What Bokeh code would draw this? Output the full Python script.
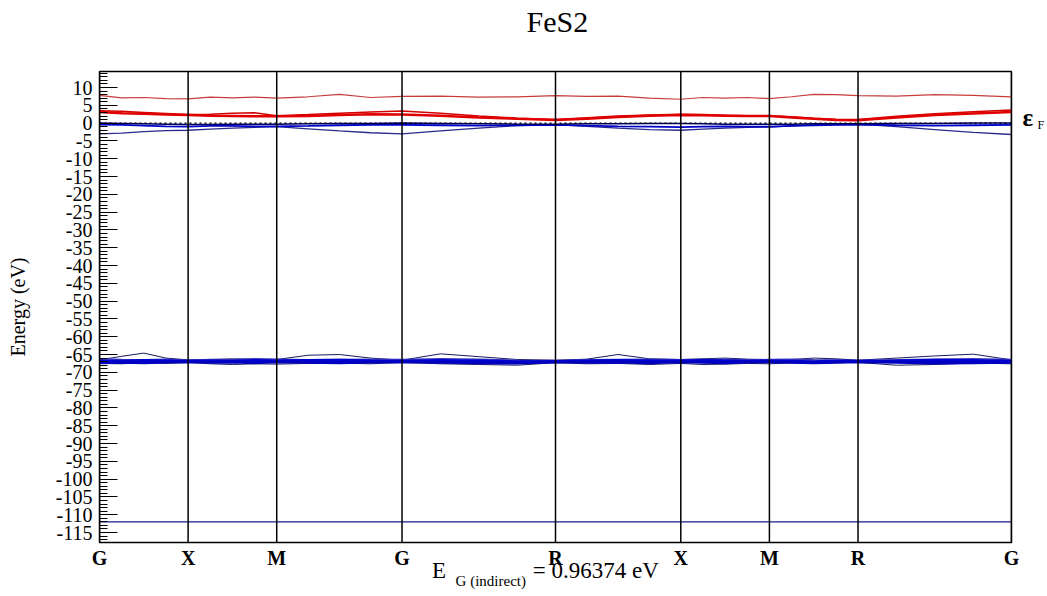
from bokeh.plotting import figure
from bokeh.models import FixedTicker, Span, Range1d, LinearAxis
from bokeh.embed import file_html
from bokeh.resources import INLINE

# ---- data ----
hs_k = [0.0, 0.5, 1.0, 1.707, 2.573, 3.280, 3.780, 4.280, 5.146]
hs_labels = ["G", "X", "M", "G", "R", "X", "M", "R", "G"]

k = [0.0, 0.125, 0.25, 0.375,
     0.5, 0.625, 0.75, 0.875,
     1.0, 1.177, 1.354, 1.530,
     1.707, 1.924, 2.140, 2.357,
     2.573, 2.750, 2.926, 3.103,
     3.280, 3.405, 3.530, 3.655,
     3.780, 3.905, 4.030, 4.155,
     4.280, 4.497, 4.713, 4.930, 5.146]

# conduction bands (red)
c3 = [7.8, 7.1, 7.2, 6.9, 6.8, 7.3, 7.1, 7.3, 7.0, 7.4, 8.1, 7.2, 7.5, 7.6, 7.3, 7.4,
      7.7, 7.5, 7.6, 7.0, 6.7, 7.2, 7.0, 7.2, 6.9, 7.4, 8.1, 8.0, 7.7, 7.6, 8.0, 7.8, 7.4]
c2 = [3.5, 3.3, 3.0, 2.7, 2.4, 2.5, 2.8, 2.9, 2.1, 2.4, 2.8, 3.1, 3.4, 2.8, 2.0, 1.4,
      1.0, 1.5, 2.0, 2.3, 2.5, 2.4, 2.2, 2.1, 2.1, 1.8, 1.4, 1.1, 1.0, 1.9, 2.6, 3.2, 3.7]
c1 = [3.1, 2.8, 2.6, 2.4, 2.3, 2.1, 2.0, 1.9, 1.9, 2.0, 2.3, 2.5, 2.4, 2.1, 1.6, 1.2,
      0.9, 1.2, 1.7, 2.1, 2.3, 2.2, 2.1, 2.0, 2.0, 1.6, 1.2, 0.9, 0.8, 1.6, 2.3, 2.7, 3.1]

# valence bands (blue)
v1 = [0.0, -0.1, -0.2, -0.3, -0.4, -0.4, -0.3, -0.3, -0.3, -0.2, -0.1, -0.1, 0.0, -0.1, -0.2, -0.3,
      -0.3, -0.2, -0.2, -0.1, -0.1, -0.2, -0.3, -0.3, -0.3, -0.3, -0.2, -0.2, -0.2, -0.1, -0.1, 0.0, 0.0]
v2 = [-0.4, -0.5, -0.7, -0.9, -1.0, -0.8, -0.8, -0.9, -0.9, -0.8, -0.6, -0.5, -0.5, -0.6, -0.7, -0.6,
      -0.5, -0.7, -0.9, -1.0, -1.1, -1.0, -0.9, -1.0, -1.0, -0.8, -0.6, -0.5, -0.4, -0.6, -0.7, -0.6, -0.5]
v3 = [-3.0, -2.8, -2.4, -2.1, -2.0, -1.7, -1.4, -1.2, -1.0, -1.6, -2.2, -2.7, -3.0, -2.2, -1.4, -0.7,
      -0.4, -0.9, -1.4, -1.8, -2.0, -1.7, -1.4, -1.2, -1.1, -0.8, -0.5, -0.4, -0.3, -1.0, -1.8, -2.6, -3.2]

# semicore bands
s1 = [-66.8, -66.9, -66.7, -66.8, -66.9, -66.8, -66.9, -66.7, -66.8, -66.7, -66.6, -66.8, -66.9, -66.7, -66.8, -67.0,
      -67.0, -66.8, -66.7, -66.8, -66.8, -66.7, -66.8, -66.9, -66.8, -66.9, -67.0, -66.8, -66.9, -66.8, -66.6, -66.7, -66.9]
s2 = [-67.3, -67.2, -67.3, -67.1, -67.0, -67.2, -67.1, -67.3, -67.0, -67.2, -67.3, -67.1, -67.0, -67.2, -67.3, -67.4,
      -67.0, -67.2, -67.1, -67.3, -67.0, -67.2, -67.3, -67.1, -67.0, -67.2, -67.3, -67.2, -67.0, -67.2, -67.4, -67.3, -67.2]
s3 = [-66.5, -65.5, -64.6, -66.0, -66.5, -66.4, -66.2, -66.3, -66.4, -65.2, -65.0, -66.0, -66.6, -64.8, -65.6, -66.4,
      -66.6, -66.3, -65.0, -66.2, -66.4, -66.2, -66.0, -66.3, -66.5, -66.4, -66.0, -66.2, -66.6, -66.0, -65.4, -64.9, -66.5]
s4 = [-67.5, -67.6, -67.3, -67.5, -67.2, -67.6, -67.8, -67.6, -67.7, -67.5, -67.4, -67.6, -67.2, -67.6, -67.8, -68.0,
      -67.3, -67.6, -67.5, -67.8, -67.5, -67.8, -67.7, -67.5, -67.6, -67.4, -67.5, -67.3, -67.2, -68.0, -67.8, -67.4, -67.6]
s5 = [-66.2, -66.4, -66.5, -66.3, -66.6, -66.4, -66.5, -66.2, -66.3, -66.5, -66.4, -66.3, -66.4, -66.2, -66.3, -66.6,
      -66.7, -66.5, -66.4, -66.3, -66.5, -66.4, -66.3, -66.5, -66.4, -66.3, -66.5, -66.6, -66.7, -66.5, -66.3, -66.2, -66.4]

deep_k = [0.0, 5.146]
deep_e = [-112.0, -112.0]

y_ticks = [10, 5, 0, -5, -10, -15, -20, -25, -30, -35, -40, -45, -50, -55, -60,
           -65, -70, -75, -80, -85, -90, -95, -100, -105, -110, -115]

title_text = "FeS2"
gap_main = "E"
gap_sub = "G (indirect)"
gap_value = "= 0.96374 eV"

SERIF = "Liberation Serif"

p = figure(width=1047, height=596, output_backend="svg", toolbar_location=None,
           x_range=Range1d(0.0, 5.146), y_range=Range1d(-117.8, 14.5),
           min_border_left=99, min_border_right=32, min_border_top=71, min_border_bottom=54)

p.xgrid.visible = False
p.ygrid.visible = False
p.outline_line_color = "black"
p.outline_line_width = 1.5
p.background_fill_color = "white"
p.border_fill_color = "white"

main_x = p.below[0]
yax = p.left[0]

# high-symmetry verticals
for kk in hs_k:
    p.add_layout(Span(location=kk, dimension="height", line_color="black", line_width=1.5))

# Fermi level
p.add_layout(Span(location=0, dimension="width", line_color="black", line_width=1.2, line_dash="2 3"))

# bands
p.line(k, c3, line_color="#c83c3c", line_width=1.2)
p.line(k, c2, line_color="#d40000", line_width=1.5)
p.line(k, c1, line_color="#e00000", line_width=2.5)
p.line(k, v3, line_color="#2a2a8a", line_width=1.3)
p.line(k, v2, line_color="#0000cc", line_width=1.8)
p.line(k, v1, line_color="#000066", line_width=1.5)

p.line(k, s3, line_color="#1a1a5e", line_width=1.0)
p.line(k, s4, line_color="#1a1a5e", line_width=1.0)
p.line(k, s5, line_color="#3b3bc0", line_width=1.5)
p.line(k, s1, line_color="#0000d0", line_width=3.0)
p.line(k, s2, line_color="#0000c0", line_width=3.0)

p.line(deep_k, deep_e, line_color="#1a1a8a", line_width=1.2)


def bare(ax):
    ax.major_tick_in = 0
    ax.major_tick_out = 0
    ax.minor_tick_in = 0
    ax.minor_tick_out = 0
    ax.axis_line_color = None
    ax.major_label_text_color = "black"
    ax.major_label_text_font = SERIF


# x axis: high-symmetry labels
main_x.ticker = FixedTicker(ticks=hs_k)
main_x.major_label_overrides = {kk: lab for kk, lab in zip(hs_k, hs_labels)}
bare(main_x)
main_x.major_label_text_font_size = "20px"
main_x.major_label_text_font_style = "bold"
main_x.major_label_standoff = 4

# title as a top axis label
x_title = 2.584
axt = LinearAxis(ticker=FixedTicker(ticks=[x_title]), major_label_overrides={x_title: title_text})
bare(axt)
axt.major_label_text_font_size = "30px"
axt.major_label_standoff = 34
p.add_layout(axt, "above")

# gap label as extra axes
x_e, x_sub, x_val = 1.916, 2.208, 2.80
ax2 = LinearAxis(ticker=FixedTicker(ticks=[x_e, x_val]),
                 major_label_overrides={x_e: gap_main, x_val: gap_value})
bare(ax2)
ax2.major_label_text_font_size = "23px"
ax2.major_label_standoff = -14
p.add_layout(ax2, "below")
ax3 = LinearAxis(ticker=FixedTicker(ticks=[x_sub]), major_label_overrides={x_sub: gap_sub})
bare(ax3)
ax3.major_label_text_font_size = "15px"
ax3.major_label_standoff = -13
p.add_layout(ax3, "below")

# Fermi label as extra right axes
y_eps, y_f = 1.6, -0.6
ax4 = LinearAxis(ticker=FixedTicker(ticks=[y_eps]), major_label_overrides={y_eps: "ε"})
bare(ax4)
ax4.major_label_text_font_size = "25px"
ax4.major_label_text_font_style = "bold"
ax4.major_label_standoff = 11
p.add_layout(ax4, "right")
ax5 = LinearAxis(ticker=FixedTicker(ticks=[y_f]), major_label_overrides={y_f: "F"})
bare(ax5)
ax5.major_label_text_font_size = "12px"
ax5.major_label_standoff = 1
p.add_layout(ax5, "right")

# y axis
minor = [m for m in range(-117, 15) if m % 5 != 0]
yax.ticker = FixedTicker(ticks=y_ticks, minor_ticks=minor)
yax.major_label_overrides = {t: str(t) for t in y_ticks}
yax.major_tick_in = 18
yax.major_tick_out = 0
yax.minor_tick_in = 8
yax.minor_tick_out = 0
yax.major_tick_line_color = "black"
yax.minor_tick_line_color = "black"
yax.axis_line_color = "black"
yax.major_label_text_font = SERIF
yax.major_label_text_font_size = "20px"
yax.major_label_text_color = "black"
yax.major_label_standoff = 7
yax.axis_label = "Energy (eV)"
yax.axis_label_text_font = SERIF
yax.axis_label_text_font_size = "20px"
yax.axis_label_text_font_style = "normal"
yax.axis_label_text_color = "black"
yax.axis_label_standoff = 24

open("out.html", "w").write(file_html(p, INLINE))
